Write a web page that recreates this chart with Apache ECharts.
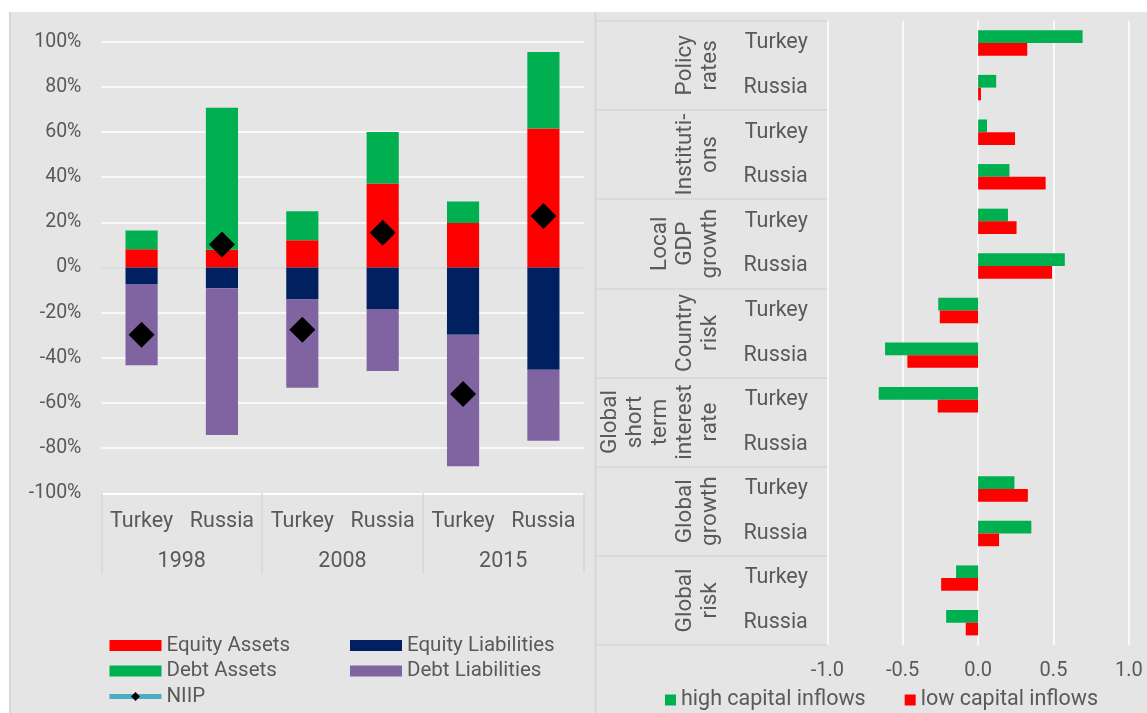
<!DOCTYPE html>
<html>
<head>
<meta charset="utf-8">
<script src="https://cdn.jsdelivr.net/npm/echarts@6/dist/echarts.min.js"></script>
<style>
html,body{margin:0;padding:0;background:#fff;}
#chart{width:1147px;height:713px;}
</style>
</head>
<body>
<div id="chart"></div>
<script>
// ---------- Left panel data (percent) ----------
const leftCats = ['Turkey', 'Russia', 'Turkey', 'Russia', 'Turkey', 'Russia'];
const years = ['1998', '2008', '2015'];
const equityAssets = [8.1, 7.9, 12.1, 37.2, 19.7, 61.6];
const debtAssets = [8.3, 62.9, 12.8, 22.8, 9.5, 33.8];
const equityLiabilities = [-7.3, -9.2, -14.2, -18.4, -29.8, -45.3];
const debtLiabilities = [-36.0, -65.0, -39.1, -27.4, -58.2, -31.4];
const niip = [-29.8, 10.2, -27.6, 15.4, -56.0, 22.8];

// ---------- Right panel data ----------
const factors = ['Policy\nrates', 'Instituti-\nons', 'Local\nGDP\ngrowth', 'Country\nrisk',
  'Global\nshort\nterm\ninterest\nrate', 'Global\ngrowth', 'Global\nrisk'];
const rightCats = ['Turkey', 'Russia', 'Turkey', 'Russia', 'Turkey', 'Russia', 'Turkey', 'Russia',
  'Turkey', 'Russia', 'Turkey', 'Russia', 'Turkey', 'Russia'];
const highInflows = [0.693, 0.120, 0.059, 0.208, 0.198, 0.575, -0.264, -0.617, -0.659, null, 0.241, 0.353, -0.146, -0.212];
const lowInflows = [0.326, 0.019, 0.245, 0.448, 0.255, 0.490, -0.254, -0.469, -0.268, null, 0.330, 0.139, -0.245, -0.082];

const FONT = 'Roboto';
const TXT = '#595959';
const BG = '#e5e5e5';
const SEP = '#d6d6d6';

const chart = echarts.init(document.getElementById('chart'), null, {renderer: 'canvas'});

const leftSplitColors = ['#fff','#fff','#fff','#fff','#fff','#d9d9d9','#fff','#fff','#fff','#fff','#fff'];
const rightSplitColors = ['#fff','#fff','#d9d9d9','#fff','#fff'];

const option = {
  backgroundColor: BG,
  animation: false,
  textStyle: {fontFamily: FONT, color: TXT},
  graphic: [
    {type: 'rect', shape: {x: 0, y: 0, width: 1147, height: 12}, style: {fill: '#fff'}, silent: true},
    {type: 'rect', shape: {x: 0, y: 0, width: 9, height: 713}, style: {fill: '#fff'}, silent: true},
    {type: 'line', shape: {x1: 10, y1: 12, x2: 10, y2: 713}, style: {stroke: SEP, lineWidth: 2}, silent: true},
    {type: 'line', shape: {x1: 595.5, y1: 12, x2: 595.5, y2: 713}, style: {stroke: SEP, lineWidth: 2}, silent: true}
  ],
  grid: [
    {left: 101.4, right: 1147 - 583.6, top: 41.7, bottom: 713 - 493.3, containLabel: false},
    {left: 827.3, right: 1147 - 1128.9, top: 20.7, bottom: 713 - 645, containLabel: false}
  ],
  legend: [
    {
      orient: 'vertical', left: 107, top: 635, padding: 0, itemGap: 4.5,
      itemWidth: 52, itemHeight: 11,
      textStyle: {fontFamily: FONT, fontSize: 20.5, color: TXT},
      data: [
        {name: 'Equity Assets', icon: 'rect'},
        {name: 'Debt Assets', icon: 'rect'},
        {name: 'NIIP', lineStyle: {color: '#4bacc6', width: 5, opacity: 1}, itemStyle: {color: '#000'}}
      ]
    },
    {
      orient: 'vertical', left: 350, top: 635, padding: 0, itemGap: 4.5,
      itemWidth: 52, itemHeight: 11,
      textStyle: {fontFamily: FONT, fontSize: 20.5, color: TXT},
      data: [
        {name: 'Equity Liabilities', icon: 'rect'},
        {name: 'Debt Liabilities', icon: 'rect'}
      ]
    },
    {
      orient: 'horizontal', left: 665, top: 689, padding: 0, itemGap: 39,
      itemWidth: 11, itemHeight: 11,
      textStyle: {fontFamily: FONT, fontSize: 21.5, color: TXT},
      data: [
        {name: 'high capital inflows', icon: 'rect'},
        {name: 'low capital inflows', icon: 'rect'}
      ]
    }
  ],
  xAxis: [
    {
      gridIndex: 0, type: 'category', data: leftCats, position: 'bottom',
      axisLine: {show: true, onZero: false, lineStyle: {color: '#fff', width: 1.5}},
      axisTick: {show: false},
      axisLabel: {interval: 0, margin: 17, fontSize: 21.5, color: TXT, fontFamily: FONT}
    },
    {
      gridIndex: 0, type: 'category', data: years, position: 'bottom',
      axisLine: {show: false, onZero: false},
      axisTick: {show: true, length: 80, lineStyle: {color: SEP, width: 1.5}},
      axisLabel: {interval: 0, margin: 57, fontSize: 21.5, color: TXT, fontFamily: FONT}
    },
    {
      gridIndex: 1, type: 'value', min: -1, max: 1, interval: 0.5, position: 'bottom',
      axisLine: {show: false},
      axisTick: {show: false},
      splitLine: {show: true, lineStyle: {color: rightSplitColors, width: 1.5}},
      axisLabel: {margin: 16, fontSize: 20, color: TXT, fontFamily: FONT, formatter: v => v.toFixed(1)}
    }
  ],
  yAxis: [
    {
      gridIndex: 0, type: 'value', min: -100, max: 100, interval: 20,
      axisLine: {show: false},
      axisTick: {show: false},
      splitLine: {show: true, lineStyle: {color: leftSplitColors, width: 1.5}},
      axisLabel: {margin: 20, fontSize: 19.5, color: TXT, fontFamily: FONT, formatter: v => v + '%'}
    },
    {
      gridIndex: 1, type: 'category', data: rightCats, inverse: true, position: 'left',
      axisLine: {show: true, lineStyle: {color: '#fff', width: 1.5}},
      axisTick: {show: false},
      axisLabel: {interval: 0, margin: 19.5, fontSize: 21.5, color: TXT, fontFamily: FONT, padding: [3, 0, 0, 0]}
    },
    {
      gridIndex: 1, type: 'category', data: factors, inverse: true, position: 'left',
      axisLine: {show: false},
      axisTick: {show: true, length: 230, lineStyle: {color: SEP, width: 1.5}},
      axisLabel: {
        interval: 0, rotate: 90, margin: 104, fontSize: 22.5, lineHeight: 25,
        color: TXT, fontFamily: FONT, align: 'center', verticalAlign: 'bottom'
      }
    }
  ],
  series: [
    {name: 'Equity Assets', type: 'bar', stack: 'pos', xAxisIndex: 0, yAxisIndex: 0,
      barWidth: '40%', itemStyle: {color: '#ff0000'}, data: equityAssets},
    {name: 'Debt Assets', type: 'bar', stack: 'pos', xAxisIndex: 0, yAxisIndex: 0,
      barWidth: '40%', itemStyle: {color: '#00b050'}, data: debtAssets},
    {name: 'Equity Liabilities', type: 'bar', stack: 'pos', xAxisIndex: 0, yAxisIndex: 0,
      barWidth: '40%', itemStyle: {color: '#002060'}, data: equityLiabilities},
    {name: 'Debt Liabilities', type: 'bar', stack: 'pos', xAxisIndex: 0, yAxisIndex: 0,
      barWidth: '40%', itemStyle: {color: '#8064a2'}, data: debtLiabilities},
    {name: 'NIIP', type: 'line', xAxisIndex: 0, yAxisIndex: 0, z: 5,
      symbol: 'diamond', symbolSize: 26, itemStyle: {color: '#000'},
      lineStyle: {color: '#4bacc6', width: 5, opacity: 0}, data: niip},
    {name: 'high capital inflows', type: 'bar', xAxisIndex: 2, yAxisIndex: 1,
      barWidth: 12.7, barGap: '0%', itemStyle: {color: '#00b050'}, data: highInflows},
    {name: 'low capital inflows', type: 'bar', xAxisIndex: 2, yAxisIndex: 1,
      barWidth: 12.7, barGap: '0%', itemStyle: {color: '#ff0000'}, data: lowInflows}
  ]
};
chart.setOption(option);
</script>
</body>
</html>
